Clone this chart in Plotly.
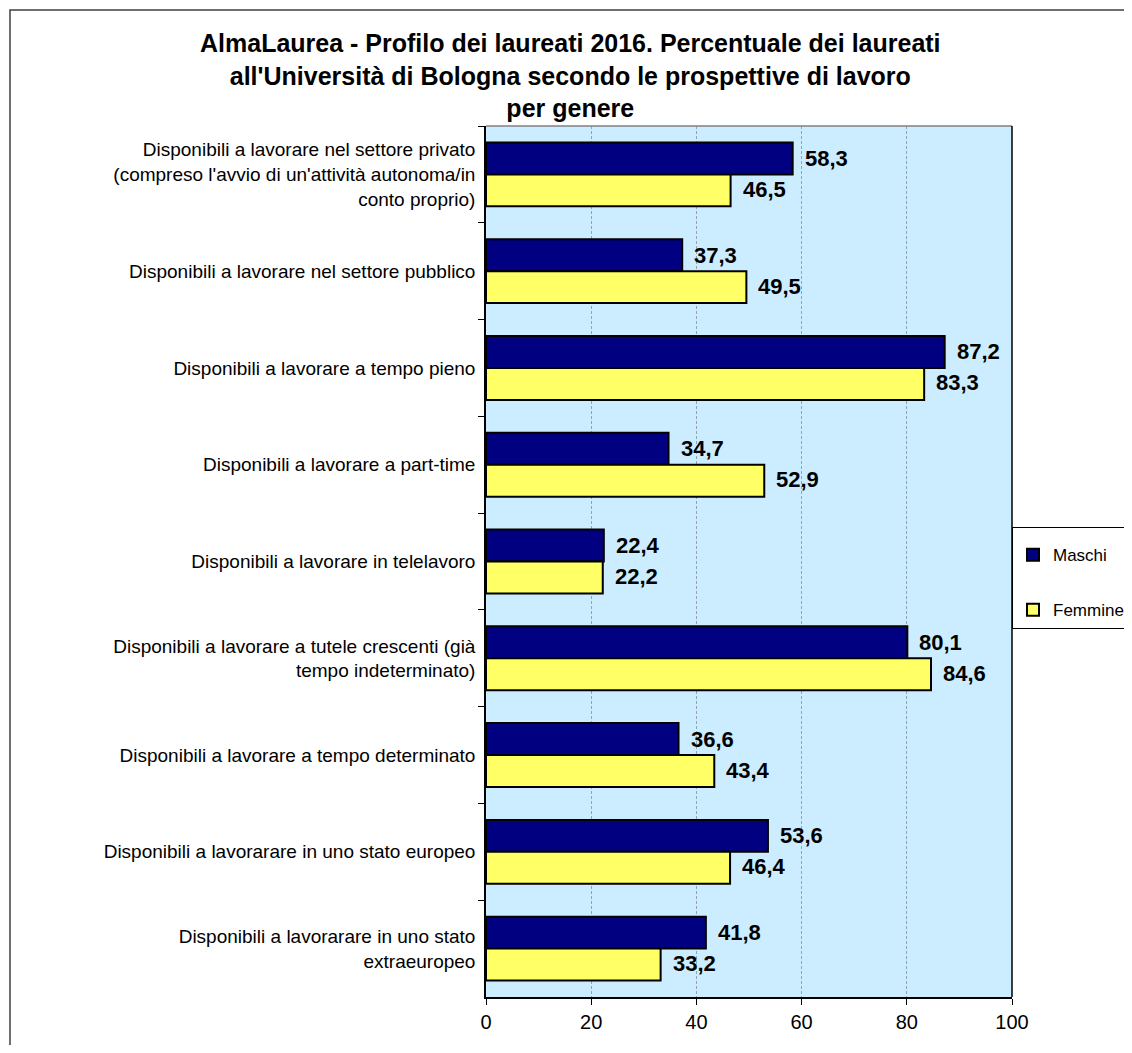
import plotly.graph_objects as go

categories = [
    "Disponibili a lavorare nel settore privato<br>(compreso l'avvio di un'attività autonoma/in<br>conto proprio)",
    "Disponibili a lavorare nel settore pubblico",
    "Disponibili a lavorare a tempo pieno",
    "Disponibili a lavorare a part-time",
    "Disponibili a lavorare in telelavoro",
    "Disponibili a lavorare a tutele crescenti (già<br>tempo indeterminato)",
    "Disponibili a lavorare a tempo determinato",
    "Disponibili a lavorarare in uno stato europeo",
    "Disponibili a lavorarare in uno stato<br>extraeuropeo",
]
maschi = [58.3, 37.3, 87.2, 34.7, 22.4, 80.1, 36.6, 53.6, 41.8]
femmine = [46.5, 49.5, 83.3, 52.9, 22.2, 84.6, 43.4, 46.4, 33.2]
x_ticks = [0, 20, 40, 60, 80, 100]

# page body has an 8px margin; figure coordinates = screen - 8
OFF = 8
W, H = 1116, 1037
L, R, T, B = 486 - OFF, 1012 - OFF, 126 - OFF, 997 - OFF
pw, ph = R - L, B - T

def px_x(p):
    return (p - OFF - L) / pw

def px_y(p):
    return 1 + (T - (p - OFF)) / ph

fig = go.Figure()
fig.add_trace(go.Bar(
    y=categories, x=maschi, orientation="h", name="Maschi",
    marker=dict(color="#000080", line=dict(color="black", width=2)),
    legendgroup="m",
))
fig.add_trace(go.Bar(
    y=categories, x=femmine, orientation="h", name="Femmine",
    marker=dict(color="#FFFF66", line=dict(color="black", width=2)),
    legendgroup="f",
))

def fmt(v):
    return f"{v:.1f}".replace(".", ",")

label_font = dict(family="Arial", size=22, color="black", weight="bold")
annotations = []
for cat, vm, vf in zip(categories, maschi, femmine):
    annotations.append(dict(x=vm, y=cat, text=fmt(vm), showarrow=False,
                            xanchor="left", yanchor="middle", xshift=10, yshift=16,
                            font=label_font))
    annotations.append(dict(x=vf, y=cat, text=fmt(vf), showarrow=False,
                            xanchor="left", yanchor="middle", xshift=10, yshift=-15,
                            font=label_font))

annotations.append(dict(
    xref="paper", yref="paper", x=px_x(570), y=px_y(27), xanchor="center", yanchor="top",
    text="<b>AlmaLaurea - Profilo dei laureati 2016. Percentuale dei laureati<br>all'Università di Bologna secondo le prospettive di lavoro<br>per genere</b>",
    showarrow=False, align="center",
    font=dict(family="Arial", size=25, color="black"),
))

shapes = [
    dict(type="rect", xref="paper", yref="paper", x0=px_x(10), y0=px_y(1300), x1=px_x(1400), y1=px_y(10),
         line=dict(color="#404040", width=1.5), fillcolor="rgba(0,0,0,0)", layer="below"),
    dict(type="line", xref="paper", yref="paper", x0=0, x1=1, y0=1, y1=1,
         line=dict(color="#808080", width=1.5)),
    dict(type="line", xref="paper", yref="paper", x0=1, x1=1, y0=0, y1=1,
         line=dict(color="black", width=1.5)),
]

fig.update_layout(
    width=W, height=H, autosize=False,
    margin=dict(l=L, r=W - R, t=T, b=H - B, autoexpand=False),
    paper_bgcolor="white", plot_bgcolor="#CCECFF",
    barmode="group", bargap=0.34, bargroupgap=0,
    font=dict(family="Arial", size=19, color="black"),
    annotations=annotations, shapes=shapes,
    legend=dict(x=1.0, xanchor="left", y=px_y(527), yanchor="top",
                bordercolor="black", borderwidth=1, bgcolor="white",
                font=dict(family="Arial", size=17), tracegroupgap=30,
                traceorder="grouped", itemwidth=30,
                title=dict(text=" ", font=dict(size=7))),
    xaxis=dict(range=[0, 100], tickvals=x_ticks, ticks="outside", ticklen=6,
               tickcolor="black", showline=True, linecolor="black", linewidth=1.5,
               showgrid=True, gridcolor="#8FA3B0", griddash="3px,2px", gridwidth=1,
               zeroline=False, tickfont=dict(family="Arial", size=20)),
    yaxis=dict(autorange="reversed", ticks="outside", ticklen=6, tickson="boundaries",
               tickcolor="black", showline=True, linecolor="black", linewidth=1.5,
               tickfont=dict(family="Arial", size=19), ticklabelstandoff=5),
    showlegend=True,
)

fig.write_html("out.html")
